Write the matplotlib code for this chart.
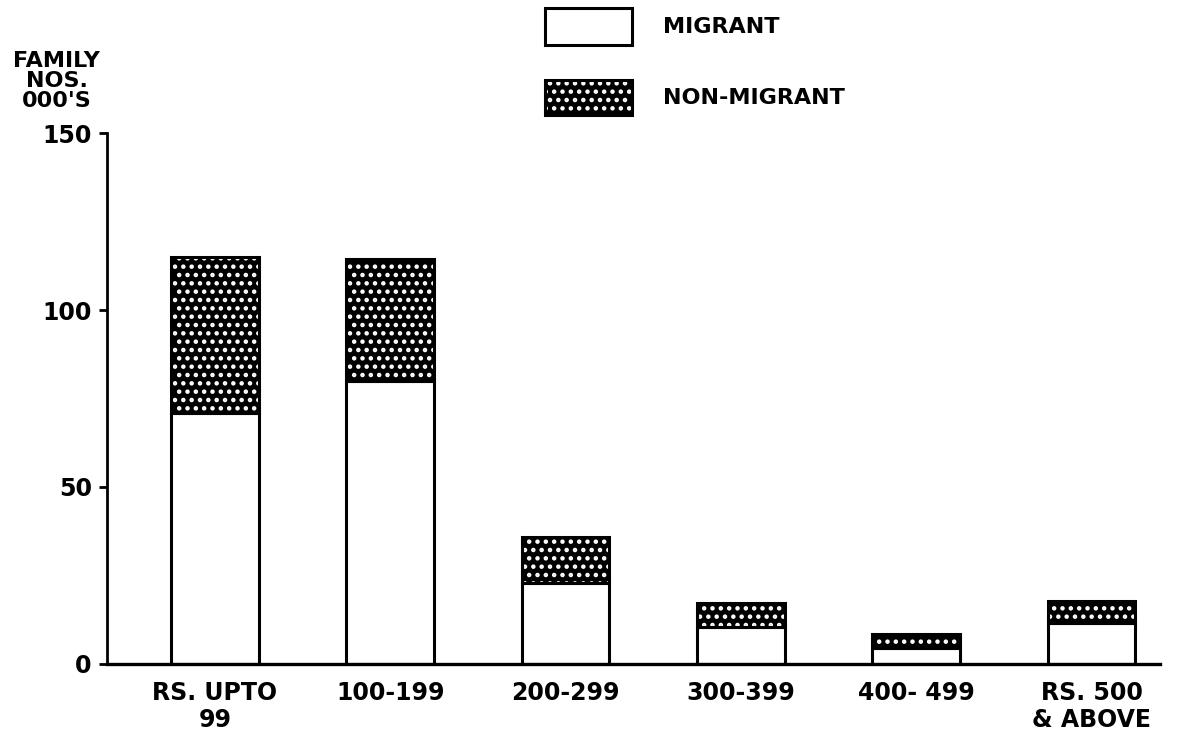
import matplotlib
matplotlib.use("Agg")
import matplotlib.pyplot as plt
from matplotlib.patches import Rectangle

categories = ["RS. UPTO\n99", "100-199", "200-299", "300-399", "400- 499", "RS. 500\n& ABOVE"]
migrant = [71, 80, 23, 10.5, 4.5, 11.5]
non_migrant = [44, 34.5, 13, 6.8, 4, 6.3]
yticks = [0, 50, 100, 150]
legend_labels = ["MIGRANT", "NON-MIGRANT"]

plt.rcParams['font.family'] = ['DejaVu Sans']
plt.rcParams['hatch.linewidth'] = 2.0

fig = plt.figure(figsize=(11.8, 7.49), dpi=100)
ax = fig.add_axes([0.0907, 0.1135, 0.983 - 0.0907, 0.8224 - 0.1135])

x = list(range(len(categories)))
w = 0.5
# migrant (white)
ax.bar(x, migrant, width=w, color='white', edgecolor='black', linewidth=2.2, zorder=2)
# non-migrant (dark speckled)
ax.bar(x, non_migrant, bottom=migrant, width=w, color='black', edgecolor='white',
       hatch='..', linewidth=0, zorder=2)
ax.bar(x, non_migrant, bottom=migrant, width=w, fill=False, edgecolor='black',
       linewidth=2.2, zorder=3)

ax.set_xlim(-0.616, 5.39)
ax.set_ylim(0, 150)
ax.spines['top'].set_visible(False)
ax.spines['right'].set_visible(False)
ax.spines['left'].set_linewidth(2.0)
ax.spines['bottom'].set_linewidth(2.4)
ax.set_yticks(yticks)
ax.set_yticklabels([str(v) for v in yticks], fontsize=17, fontweight='bold')
ax.tick_params(axis='y', length=6, width=2, pad=5, direction='out')
ax.set_xticks(x)
ax.set_xticklabels(categories, fontsize=17, fontweight='bold', linespacing=1.15)
ax.tick_params(axis='x', length=0, pad=12)

fig.text(0.048, 0.892, "FAMILY\nNOS.\n000'S", ha='center', va='center',
         fontsize=16, fontweight='bold', linespacing=1.0)

# legend
lx0, lx1 = 545 / 1180, 632 / 1180
fig.patches.append(Rectangle((lx0, 1 - 45 / 749), lx1 - lx0, 37 / 749,
                             transform=fig.transFigure, facecolor='white',
                             edgecolor='black', linewidth=2.2))
fig.patches.append(Rectangle((lx0, 1 - 115 / 749), lx1 - lx0, 35 / 749,
                             transform=fig.transFigure, facecolor='black',
                             edgecolor='white', hatch='..', linewidth=0))
fig.patches.append(Rectangle((lx0, 1 - 115 / 749), lx1 - lx0, 35 / 749,
                             transform=fig.transFigure, fill=False,
                             edgecolor='black', linewidth=2.2))
fig.text(663 / 1180, 1 - 27 / 749, legend_labels[0], ha='left', va='center',
         fontsize=16, fontweight='bold')
fig.text(663 / 1180, 1 - 98 / 749, legend_labels[1], ha='left', va='center',
         fontsize=16, fontweight='bold')

fig.savefig("out.png", dpi=100)
